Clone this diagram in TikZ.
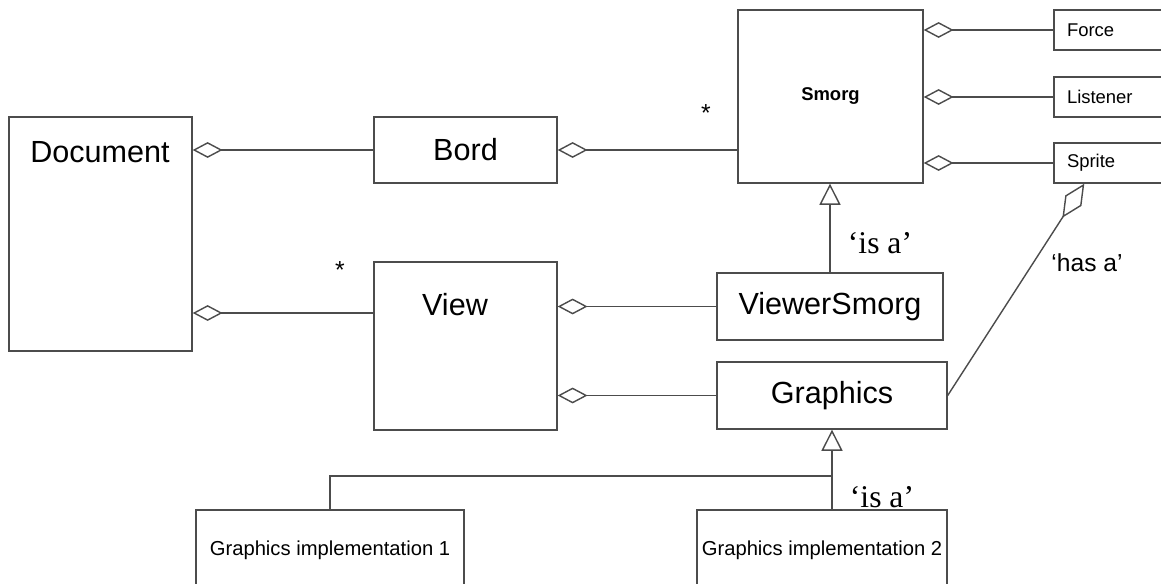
\documentclass[tikz,border=0pt]{standalone}
\usepackage{fontspec}
\setmainfont{Liberation Sans}
\newfontfamily\quotefont{Liberation Serif}
\usetikzlibrary{%
  arrows.meta,%
  calc,%
}

\tikzset{
  bigfont/.style={font=\fontsize{17.4}{20}\selectfont},
  cls/.style={draw=black!70, line width=0.8pt, rectangle, inner sep=0pt},
  bigcls/.style={cls, bigfont},
  sidecls/.style={cls, minimum width=2.42cm, minimum height=0.8cm,
    text width=1.9cm, align=left, font=\fontsize{10.5}{12}\selectfont},
  implcls/.style={cls, minimum height=1.6cm, font=\fontsize{11.5}{13}\selectfont},
  link/.style={draw=black!70, line width=0.8pt},
  agg/.style={link, {Diamond[open,length=17pt,width=9pt]}-},
  hasa/.style={link, -{Diamond[open,length=23pt,width=11pt]}},
  isa/.style={link, -{Triangle[open,length=12pt,width=12pt]}},
  quote/.style={font=\quotefont\fontsize{18}{20}\selectfont},
  mult/.style={font=\fontsize{14}{16}\selectfont},
}

\begin{document}
\begin{tikzpicture}[x=0.02cm, y=-0.02cm]

  \clip (0, 0) rectangle (1161, 584);
  \fill [white] (0, 0) rectangle (1161, 584);

  % classes
  \node [cls, minimum width=3.66cm, minimum height=4.68cm] (doc) at (100.5, 234) {};
  \node [bigfont] (doctext) at (100, 152) {Document};

  \node [bigcls, minimum width=3.66cm, minimum height=1.32cm] (bord) at (465.5, 150) {Bord};

  \node [cls, minimum width=3.7cm, minimum height=3.46cm,
    font=\bfseries\fontsize{10.5}{12}\selectfont] (smorg) at (830.5, 96.5) {Smorg};

  \node [sidecls] (force) at (1114.5, 30) {Force};
  \node [sidecls] (listener) at (1114.5, 97) {Listener};
  \node [sidecls] (sprite) at (1114.5, 163) {Sprite};

  \node [cls, minimum width=3.66cm, minimum height=3.36cm] (view) at (465.5, 346) {};
  \node [bigfont] (viewtext) at (455, 305) {View};

  \node [bigcls, minimum width=4.52cm, minimum height=1.34cm] (viewer) at (830, 306.5) {ViewerSmorg};
  \node [bigcls, minimum width=4.6cm, minimum height=1.34cm] (graphics) at (832, 395.5) {Graphics};

  \node [implcls, minimum width=5.36cm] (impl1) at (330, 550) {Graphics implementation 1};
  \node [implcls, minimum width=5cm] (impl2) at (822, 550) {Graphics implementation 2};

  % aggregations
  \draw [agg] (doc.east |- bord.west) -- (bord.west);
  \coordinate (vw) at ([yshift=0.66cm]view.west);
  \draw [agg] (doc.east |- vw) -- (vw);
  \draw [agg] (bord.east) -- (bord.east -| smorg.west);
  \draw [agg] (smorg.east |- force.west) -- (force.west);
  \draw [agg] (smorg.east |- listener.west) -- (listener.west);
  \draw [agg] (smorg.east |- sprite.west) -- (sprite.west);
  \draw [agg] (view.east |- viewer.west) -- (viewer.west);
  \draw [agg] (view.east |- graphics.west) -- (graphics.west);
  \draw [hasa] (graphics.east) -- ([xshift=0.62cm]sprite.south west);

  % inheritance
  \draw [isa] (viewer.north) -- (viewer.north |- smorg.south);
  \draw [isa] (graphics.south |- impl2.north) -- (graphics.south);
  \coordinate (split) at (832, 476);
  \draw [link] (impl1.north) |- (split);

  % labels
  \node [mult] (star1) at (706, 113) {*};
  \node [mult] (star2) at (340, 270) {*};
  \node [quote] (isa1) at (880, 243) {‘is a’};
  \node [quote] (isa2) at (882, 497) {‘is a’};
  \node [mult] (hasalabel) at (1087, 263) {‘has a’};

\end{tikzpicture}
\end{document}
